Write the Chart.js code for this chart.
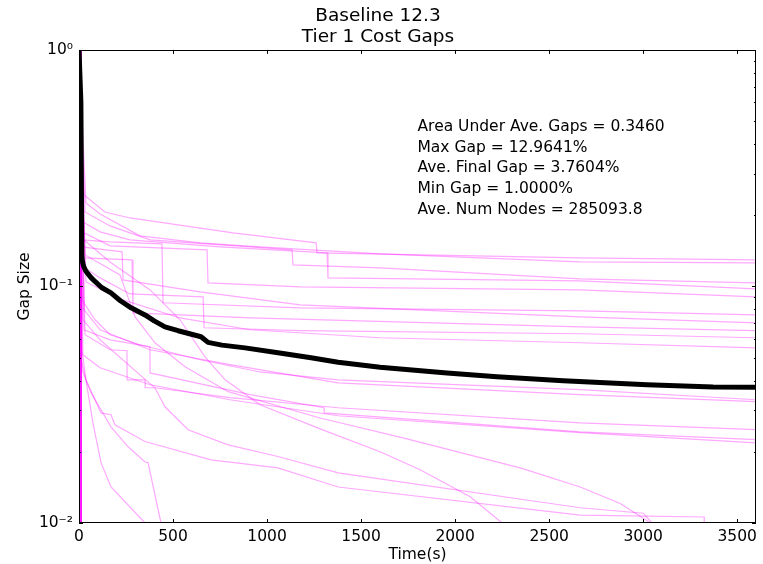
<!DOCTYPE html>
<html>
<head>
<meta charset="utf-8">
<title>Baseline 12.3 - Tier 1 Cost Gaps</title>
<script src="https://cdn.jsdelivr.net/npm/chart.js@4.4.1/dist/chart.umd.min.js"></script>
<style>
  html, body { margin: 0; padding: 0; background: #fff; }
  #gapChart { display: block; }
</style>
</head>
<body>
<canvas id="gapChart" width="763" height="564"></canvas>
<script>
// --- Data: [time (s), gap (fraction)] ---
const xTicks = [0, 500, 1000, 1500, 2000, 2500, 3000, 3500];
const yTicks = [0.01, 0.1, 1];
const yTickLabels = ['10\u207B\u00B2', '10\u207B\u00B9', '10\u2070'];
const yDecades = [0.01, 0.1];
const titleLines = ['Baseline 12.3', 'Tier 1 Cost Gaps'];
const statLines = [
  'Area Under Ave. Gaps = 0.3460',
  'Max Gap = 12.9641%',
  'Ave. Final Gap = 3.7604%',
  'Min Gap = 1.0000%',
  'Ave. Num Nodes = 285093.8'
];

const aveGap = [[0, 1], [10, 0.6], [15, 0.1350], [18, 0.1280], [24, 0.1220], [34, 0.1170], [48, 0.1130],
  [64, 0.1090], [85, 0.1050], [120, 0.0990], [170, 0.0939], [220, 0.0870], [277, 0.0812],
  [351, 0.0758], [400, 0.0715], [457, 0.0675], [527, 0.0650], [649, 0.0613], [686, 0.0580],
  [760, 0.0565], [883, 0.0550], [1058, 0.0525], [1234, 0.0500], [1378, 0.0478], [1601, 0.0455],
  [1957, 0.0431], [2222, 0.0415], [2575, 0.0399], [3020, 0.0384], [3372, 0.0376], [3600, 0.0375]];

const run01 = [[0, 1], [27, 0.2437], [138, 0.2065], [271, 0.1948], [819, 0.1684], [1261, 0.1528], [1266, 0.1386], [2665, 0.1320], [3600, 0.1296]];
const run02 = [[0, 1], [37, 0.2253], [112, 0.2026], [324, 0.1636], [644, 0.1528], [963, 0.1469], [1601, 0.1372], [2665, 0.1270], [3600, 0.1258]];
const run03 = [[0, 1], [32, 0.2065], [165, 0.1803], [378, 0.1573], [1133, 0.1427], [1138, 0.1233], [1601, 0.1198], [2665, 0.1076], [3600, 0.1035]];
const run04 = [[0, 1], [21, 0.1874], [112, 0.1701], [271, 0.1573], [750, 0.1469], [1319, 0.1386], [1324, 0.1087], [2665, 0.1056], [3600, 0.0977]];
const run05 = [[0, 1], [16, 0.1701], [165, 0.1484], [681, 0.1427], [686, 0.1035], [1176, 0.0996], [2665, 0.0967], [3600, 0.0903]];
const run06 = [[0, 1], [21, 0.1573], [165, 0.1543], [441, 0.1513], [447, 0.0853], [1176, 0.0812], [2665, 0.0788], [3600, 0.0758]];
const run07 = [[0, 1], [16, 0.1469], [229, 0.1400], [234, 0.1066], [644, 0.0948], [1176, 0.0836], [2665, 0.0744], [3600, 0.0702]];
const run08 = [[0, 1], [27, 0.1320], [282, 0.1295], [287, 0.0773], [910, 0.0736], [2665, 0.0675], [3600, 0.0650]];
const run09 = [[0, 1], [32, 0.1198], [112, 0.1087], [271, 0.0930], [660, 0.0903], [665, 0.0669], [1176, 0.0650], [2665, 0.0631], [3600, 0.0607]];
const run10 = [[0, 1], [37, 0.1045], [218, 0.0886], [537, 0.0736], [910, 0.0656], [1601, 0.0607], [2665, 0.0578], [3600, 0.0550]];
const run11 = [[0, 1], [16, 0.0878], [85, 0.0723], [165, 0.0625], [324, 0.0567], [644, 0.0490], [963, 0.0435], [1378, 0.0403], [2665, 0.0366], [3600, 0.0332]];
const run12 = [[0, 1], [27, 0.0796], [112, 0.0656], [378, 0.0540], [803, 0.0467], [1378, 0.0391], [2665, 0.0349], [3600, 0.0326]];
const run13 = [[0, 1], [32, 0.0625], [165, 0.0540], [255, 0.0535], [256, 0.0403], [351, 0.0403], [352, 0.0373], [404, 0.0373], [803, 0.0339], [1378, 0.0307], [2665, 0.0265], [3600, 0.0248]];
const run14 = [[0, 1], [27, 0.0656], [165, 0.0595], [377, 0.0556], [378, 0.0431], [910, 0.0349], [1303, 0.0307], [1304, 0.0292], [2665, 0.0243], [3600, 0.0225]];
const run15 = [[0, 1], [21, 0.0514], [112, 0.0453], [378, 0.0384], [803, 0.0332], [1378, 0.0284], [2665, 0.0241], [3600, 0.0218]];
const run16 = [[0, 1], [32, 0.1359], [218, 0.1119], [298, 0.0744], [404, 0.0578], [564, 0.0458], [793, 0.0359], [1282, 0.0278], [1723, 0.0229], [2346, 0.0171], [2665, 0.0142], [2878, 0.0121], [3040, 0.0100]];
const run17 = [[0, 1], [27, 0.1573], [165, 0.1270], [378, 0.0967], [537, 0.0723], [670, 0.0504], [777, 0.0403], [963, 0.0316], [1282, 0.0250], [1601, 0.0200], [1814, 0.0168], [2080, 0.0129], [2250, 0.0100]];
const run18 = [[0, 1], [21, 0.0723], [112, 0.0595], [324, 0.0423], [404, 0.0373], [457, 0.0310], [580, 0.0248], [793, 0.0214], [1058, 0.0191], [1378, 0.0163], [2665, 0.0116], [3000, 0.0110], [3048, 0.0100]];
const run19 = [[0, 1], [16, 0.0540], [37, 0.0403], [117, 0.0292], [170, 0.0287], [191, 0.0260], [351, 0.0221], [702, 0.0185], [1058, 0.0171], [1378, 0.0142], [2665, 0.0108], [3324, 0.0106], [3325, 0.0100]];
const run20 = [[0, 1], [11, 0.0490], [37, 0.0403], [74, 0.0265], [117, 0.0180], [170, 0.0142], [351, 0.0100]];
const run21 = [[0, 1], [16, 0.0444], [64, 0.0355], [170, 0.0255], [261, 0.0210], [351, 0.0181], [367, 0.0180], [436, 0.0100]];
// runs that closed the gap within the first seconds
const run22 = [[0, 1], [9, 1], [10, 0.0100]];
const run23 = [[0, 1], [10, 1], [11, 0.0100]];
const run24 = [[0, 1], [10, 1], [10, 0.0100]];
const run25 = [[0, 1], [11, 1], [11, 0.0100]];
const run26 = [[0, 1], [9, 1], [11, 0.0100]];
const run27 = [[0, 1], [10, 1], [12, 0.0100]];
const run28 = [[0, 1], [11, 1], [12, 0.0100]];
const run29 = [[0, 1], [10, 1], [11, 0.0100]];
const run30 = [[0, 1], [12, 1], [12, 0.0100]];
const run31 = [[0, 1], [10, 1], [10, 0.0100]];

const runs = [run01, run02, run03, run04, run05, run06, run07, run08, run09, run10,
  run11, run12, run13, run14, run15, run16, run17, run18, run19, run20, run21,
  run22, run23, run24, run25, run26, run27, run28, run29, run30, run31];

const FONT = '"DejaVu Sans", "Liberation Sans", sans-serif';
const toPoints = arr => arr.map(([x, y]) => ({ x, y }));

// --- Frame, inward ticks and the stats block ---
const frameTicks = {
  id: 'frameTicks',
  afterDatasetsDraw(chart) {
    const { ctx, chartArea: a, scales: { x, y } } = chart;
    ctx.save();
    ctx.strokeStyle = '#000';
    ctx.lineWidth = 1;
    ctx.beginPath();
    xTicks.forEach(v => {
      const px = Math.round(x.getPixelForValue(v)) + 0.5;
      ctx.moveTo(px, a.bottom); ctx.lineTo(px, a.bottom - 4);
      ctx.moveTo(px, a.top); ctx.lineTo(px, a.top + 4);
    });
    yTicks.forEach(v => {
      const py = Math.round(y.getPixelForValue(v)) + 0.5;
      ctx.moveTo(a.left, py); ctx.lineTo(a.left + 4, py);
      ctx.moveTo(a.right, py); ctx.lineTo(a.right - 4, py);
    });
    yDecades.forEach(d => {
      for (let m = 2; m <= 9; m++) {
        const py = Math.round(y.getPixelForValue(d * m)) + 0.5;
        ctx.moveTo(a.left, py); ctx.lineTo(a.left + 2, py);
        ctx.moveTo(a.right, py); ctx.lineTo(a.right - 2, py);
      }
    });
    ctx.stroke();
    ctx.strokeRect(Math.round(a.left) + 0.5, Math.round(a.top) + 0.5,
      Math.round(a.right - a.left) - 1, Math.round(a.bottom - a.top) - 1);

    ctx.fillStyle = '#000';
    ctx.font = '15.5px ' + FONT;
    ctx.textBaseline = 'middle';
    ctx.textAlign = 'left';
    const tx = a.left + 0.5 * (a.right - a.left);
    const ty = a.top + 0.163 * (a.bottom - a.top);
    statLines.forEach((s, i) => ctx.fillText(s, tx, ty + i * 20.7));
    ctx.restore();
  }
};

const datasets = [{
  data: toPoints(aveGap),
  borderColor: '#000',
  borderWidth: 5,
  borderJoinStyle: 'round',
  order: 0
}].concat(runs.map(r => ({
  data: toPoints(r),
  borderColor: 'rgba(255, 0, 255, 0.34)',
  borderWidth: 1.2,
  order: 1
})));

new Chart(document.getElementById('gapChart'), {
  type: 'line',
  data: { datasets },
  options: {
    responsive: false,
    animation: false,
    events: [],
    elements: { point: { radius: 0 }, line: { tension: 0, borderCapStyle: 'butt' } },
    layout: { padding: { left: 0, right: 7, top: 0, bottom: 0 } },
    plugins: {
      legend: { display: false },
      tooltip: { enabled: false },
      title: {
        display: true,
        text: titleLines,
        color: '#000',
        font: { family: FONT, size: 18.5, weight: 'normal', lineHeight: 1.16 },
        padding: { top: 5, bottom: 2 }
      }
    },
    scales: {
      x: {
        type: 'linear',
        min: 0,
        max: 3600,
        grid: { display: false, drawTicks: false },
        border: { display: false },
        afterBuildTicks: s => { s.ticks = xTicks.map(v => ({ value: v })); },
        afterFit: s => { s.height = 41; },
        ticks: { color: '#000', padding: 5, maxRotation: 0, autoSkip: false,
          font: { family: FONT, size: 15.5 }, callback: v => String(v) },
        title: { display: true, text: 'Time(s)', color: '#000',
          font: { family: FONT, size: 15.5 }, padding: { top: 0, bottom: 0 } }
      },
      y: {
        type: 'logarithmic',
        min: 0.01,
        max: 1,
        grid: { display: false, drawTicks: false },
        border: { display: false },
        afterBuildTicks: s => { s.ticks = yTicks.map(v => ({ value: v })); },
        afterFit: s => { s.width = 79; },
        ticks: { color: '#000', padding: 6, autoSkip: false,
          font: { family: FONT, size: 15.5 }, callback: (v, i) => yTickLabels[i] },
        title: { display: true, text: 'Gap Size', color: '#000',
          font: { family: FONT, size: 15.5 }, padding: { top: 16, bottom: 0 } }
      }
    }
  },
  plugins: [frameTicks]
});
</script>
</body>
</html>
